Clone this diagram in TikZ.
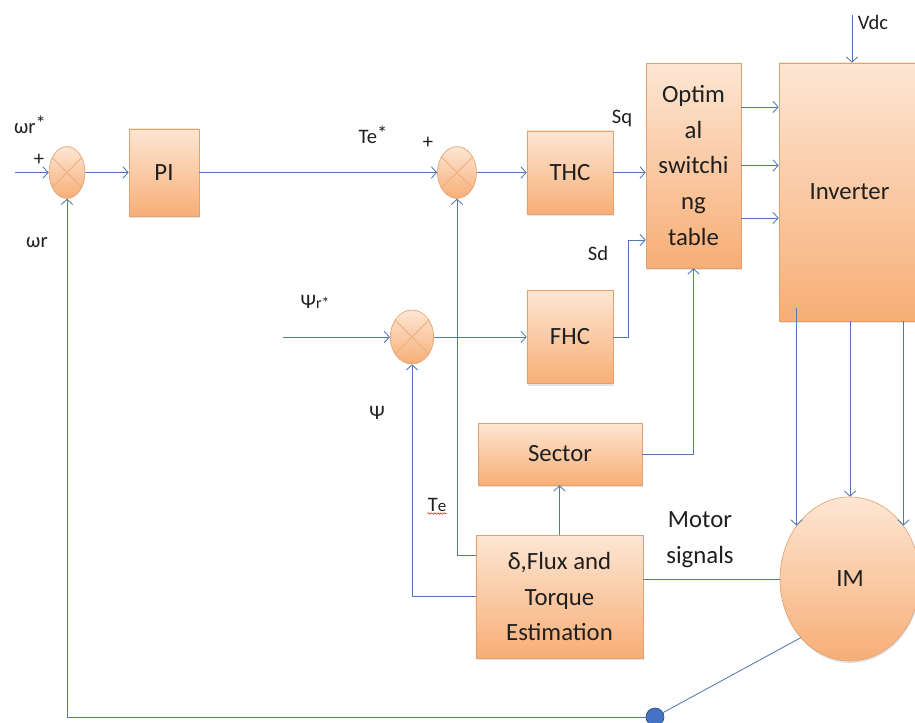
\documentclass[tikz,border=0pt]{standalone}
\usepackage{fontspec}
\setmainfont{Carlito}
\usepackage{tikz}
\usetikzlibrary{arrows.meta,positioning,shapes.geometric,calc,shadows,
                decorations.pathmorphing}
\definecolor{boxtop}{HTML}{FDE6D4}
\definecolor{boxbot}{HTML}{F7AE76}
\definecolor{boxbd}{HTML}{E2A16D}
\definecolor{crossc}{HTML}{EFAE80}
\definecolor{sigblue}{HTML}{5277B3}
\definecolor{dotfill}{HTML}{4472C4}
\definecolor{dotbd}{HTML}{2F4F8A}
\definecolor{ink}{HTML}{1F1F1F}
\tikzset{
  blk/.style={draw=boxbd,top color=boxtop,bottom color=boxbot,line width=0.6pt,
              align=center,inner sep=2pt,text=ink,
              font=\fontsize{23.5}{34}\selectfont,
              drop shadow={fill=black!35,opacity=0.3,shadow xshift=0.5pt,
                           shadow yshift=-2pt}},
  sumnode/.style={ellipse,draw=boxbd,top color=boxtop,bottom color=boxbot,
                  line width=0.6pt,inner sep=0pt,
                  minimum width=1.3cm,minimum height=1.73cm},
  lbl/.style={text=ink,font=\fontsize{19.5}{23}\selectfont,inner sep=1pt},
  sig/.style={draw=sigblue,line width=0.8pt,
              -{Straight Barb[length=5pt,width=11pt]}},
  wire/.style={draw=sigblue,line width=0.8pt},
}

\begin{document}
\begin{tikzpicture}
  \useasboundingbox (0,0) rectangle (30.5,24.067);
  \clip (0,0) rectangle (30.5,24.067);
  % blocks
  \node[sumnode,minimum width=1.2cm](sum1)at(2.233,18.317){};
  \node[blk,minimum width=2.333cm,minimum height=2.9cm](pi)at(5.467,18.317){PI};
  \node[sumnode](sum2)at(15.233,18.317){};
  \node[blk,minimum width=2.867cm,minimum height=2.767cm](thc)at(19,18.317){THC};
  \node[blk,minimum width=3.167cm,minimum height=6.833cm](tab)at(23.117,18.55)
    {Optim\\al\\switchi\\ng\\table};
  \node[blk,minimum width=4.7cm,minimum height=8.6cm](inv)at(28.317,17.667){Inverter};
  \node[sumnode,minimum width=1.45cm,minimum height=1.8cm](sum3)at(13.733,12.833){};
  \node[blk,minimum width=2.867cm,minimum height=3.1cm](fhc)at(19,12.833){FHC};
  \node[blk,minimum width=5.467cm,minimum height=2.067cm](sector)at(18.667,8.933){Sector};
  \node[blk,minimum width=5.567cm,minimum height=4.1cm](est)at(18.65,4.183)
    {δ,Flux and\\Torque\\Estimation};
  \node[blk,ellipse,minimum width=4.667cm,minimum height=5.467cm](im)at(28.333,4.767){IM};
  \foreach \s in {sum1,sum2,sum3}{
    \draw[crossc,line width=0.8pt](\s.45)--(\s.225) (\s.135)--(\s.315);
  }
  % free ends
  \coordinate(in1)at(0.5,18.317);
  \coordinate(psin)at(9.433,12.833);
  \coordinate(vdc)at(28.4,23.567);
  % labels
  \node[lbl](wref)at(1.0,19.9){ωr\raisebox{3pt}{*}};
  \node[lbl](plus1)at(1.3,18.733){+};
  \node[lbl](wr)at(1.233,15.967){ωr};
  \node[lbl](teref)at(12.433,19.567){Te\raisebox{3pt}{*}};
  \node[lbl](plus2)at(14.267,19.3){+};
  \node[lbl](sq)at(20.733,20.133){Sq};
  \node[lbl](sd)at(19.933,15.633){Sd};
  \node[lbl](vdcl)at(29.1,23.333){Vdc};
  \node[lbl](psiref)at(10.5,14.0){Ψ{\fontsize{15}{15}\selectfont r*}};
  \node[lbl](psi)at(12.567,10.3){Ψ};
  \node[lbl](te)at(14.567,7.233){T{\fontsize{16}{16}\selectfont e}};
  \draw[red,line width=0.5pt,decorate,
        decoration={snake,amplitude=0.7pt,segment length=3pt}]
    ($(te.south west)+(0.03,-0.02)$)--($(te.south east)+(-0.03,-0.02)$);
  \node[text=ink,align=center,font=\fontsize{23.5}{34}\selectfont](msig)
    at(23.333,6.067){Motor\\signals};
  % connectors
  \draw[sig](in1)--(sum1.west);
  \draw[sig](sum1.east)--(pi.west);
  \draw[sig](pi.east)--(sum2.west);
  \draw[sig](sum2.east)--(thc.west);
  \draw[sig](thc.east)--(thc.east-|tab.west);
  \draw[sig](fhc.east)--++(0.5,0)|-($(tab.west)+(0,-2.483)$);
  \draw[sig](psin)--(sum3.west);
  \draw[sig](sum3.east)--(sum3.east-|fhc.west);
  \draw[sig](sector.east)-|(tab.south);
  \draw[sig](vdc)--(vdc|-inv.north);
  \foreach \dy in {1.95,0,-1.75}{
    \draw[sig]($(tab.east)+(0,\dy)$)coordinate(t)--(t-|inv.west);
  }
  \draw[sig]($(im.135|-inv.south)+(0,0.45)$)--(im.135);
  \foreach \a in {90,45}{
    \draw[sig](im.\a|-inv.south)--(im.\a);
  }
  \draw[sig]($(est.west)+(0,1.383)$)-|(sum2.south);
  \draw[sig](est.west)-|(sum3.south);
  \draw[sig](est.north)--(est.north|-sector.south);
  \draw[wire](im.west-|est.east)--(im.west);
  \node[circle,draw=dotbd,fill=dotfill,line width=0.6pt,minimum size=0.6cm,
        inner sep=0pt](dot)at(21.833,0.167){};
  \draw[wire](im.230)--(dot);
  \draw[sig](dot)-|(sum1.south);
\end{tikzpicture}
\end{document}
